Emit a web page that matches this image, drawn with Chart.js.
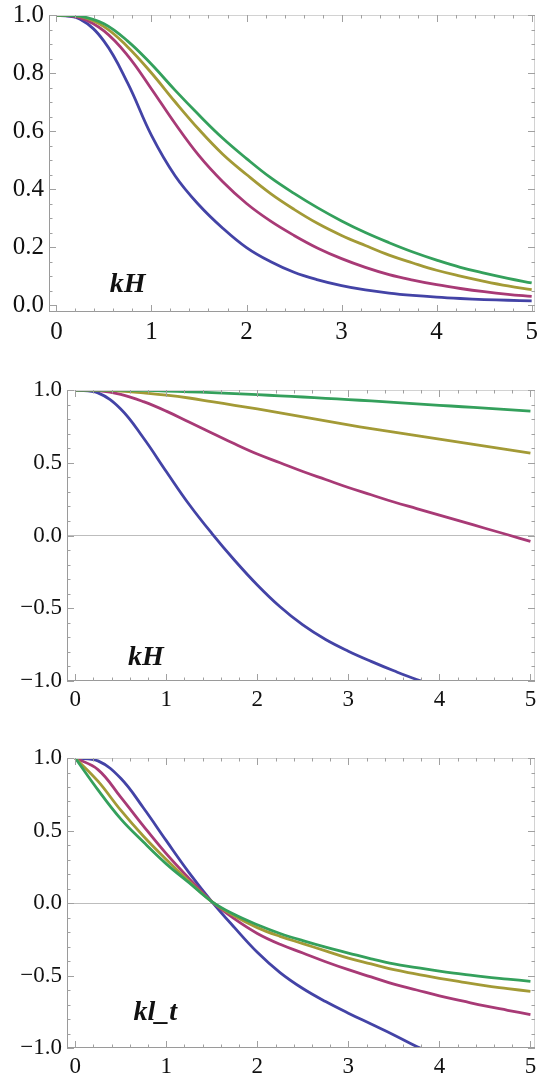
<!DOCTYPE html>
<html>
<head>
<meta charset="utf-8">
<script src="https://cdn.jsdelivr.net/npm/chart.js@4.4.1/dist/chart.umd.min.js"></script>
<style>
  body { margin: 0; background: #fff; width: 538px; height: 1081px; position: relative; overflow: hidden; }
  .panel { position: absolute; left: 0; width: 538px; }
</style>
</head>
<body>
<div class="panel" style="top:0; height:350px;"><canvas id="c1"></canvas></div>
<div class="panel" style="top:375px; height:345px;"><canvas id="c2"></canvas></div>
<div class="panel" style="top:743px; height:338px;"><canvas id="c3"></canvas></div>

<script>
// x positions (kH / kl_t), shared by all panels
const xs = [0, 0.25, 0.5, 0.75, 1, 1.25, 1.5, 1.75, 2, 2.25, 2.5, 2.75, 3, 3.25, 3.5, 3.75, 4, 4.25, 4.5, 4.75, 5];

// panel 1
const p1Blue    = [1, 0.985, 0.91, 0.765, 0.585, 0.445, 0.345, 0.265, 0.198, 0.15, 0.113, 0.087, 0.067, 0.052, 0.041, 0.033, 0.027, 0.0225, 0.019, 0.0165, 0.0145];
const p1Magenta = [1, 0.99, 0.945, 0.86, 0.745, 0.625, 0.515, 0.425, 0.35, 0.29, 0.24, 0.196, 0.16, 0.13, 0.105, 0.086, 0.07, 0.057, 0.046, 0.037, 0.03];
const p1Olive   = [1, 0.995, 0.96, 0.89, 0.80, 0.70, 0.605, 0.52, 0.45, 0.385, 0.33, 0.281, 0.24, 0.205, 0.172, 0.145, 0.12, 0.1, 0.082, 0.066, 0.053];
const p1Green   = [1, 0.996, 0.97, 0.91, 0.83, 0.74, 0.655, 0.575, 0.505, 0.44, 0.385, 0.335, 0.29, 0.25, 0.215, 0.183, 0.155, 0.13, 0.11, 0.092, 0.076];

// panel 2
const p2Blue    = [1, 0.98, 0.87, 0.67, 0.44, 0.215, 0.015, -0.17, -0.34, -0.49, -0.615, -0.715, -0.795, -0.865, -0.93, -0.99, -1.04, -1.09, -1.13, -1.17, -1.2];
const p2Magenta = [1, 0.995, 0.97, 0.92, 0.855, 0.78, 0.705, 0.63, 0.56, 0.5, 0.44, 0.385, 0.33, 0.28, 0.23, 0.185, 0.14, 0.095, 0.05, 0.005, -0.04];
const p2Olive   = [1, 0.999, 0.993, 0.98, 0.965, 0.945, 0.92, 0.895, 0.87, 0.843, 0.815, 0.787, 0.76, 0.735, 0.71, 0.686, 0.662, 0.638, 0.614, 0.59, 0.566];
const p2Green   = [1, 1, 0.999, 0.997, 0.993, 0.988, 0.982, 0.975, 0.968, 0.96, 0.952, 0.943, 0.934, 0.925, 0.915, 0.905, 0.895, 0.885, 0.875, 0.865, 0.855];

// panel 3
const p3Blue    = [1, 0.98, 0.86, 0.655, 0.43, 0.21, 0.01, -0.17, -0.34, -0.48, -0.59, -0.68, -0.76, -0.835, -0.91, -0.99, -1.06, -1.12, -1.18, -1.23, -1.28];
const p3Magenta = [1, 0.92, 0.73, 0.53, 0.34, 0.17, 0.01, -0.11, -0.21, -0.285, -0.345, -0.405, -0.46, -0.51, -0.56, -0.6, -0.64, -0.675, -0.71, -0.74, -0.77];
const p3Olive   = [1, 0.84, 0.64, 0.46, 0.3, 0.15, 0.01, -0.09, -0.17, -0.23, -0.28, -0.33, -0.38, -0.42, -0.46, -0.49, -0.52, -0.545, -0.57, -0.59, -0.61];
const p3Green   = [1, 0.78, 0.58, 0.42, 0.27, 0.14, 0.01, -0.08, -0.15, -0.21, -0.26, -0.305, -0.345, -0.385, -0.42, -0.445, -0.47, -0.49, -0.51, -0.525, -0.54];

// ticks
const xTicks = [0, 1, 2, 3, 4, 5];
const yTicks1 = [0, 0.2, 0.4, 0.6, 0.8, 1.0];
const yTicks23 = [-1, -0.5, 0, 0.5, 1];

const colors = { blue: '#4343a6', magenta: '#a83a76', olive: '#a39a36', green: '#34a05c' };
const serif = '"Liberation Serif", "Times New Roman", serif';

// frame with inward ticks on all four sides + panel label
const framePlugin = {
  id: 'frame',
  afterDatasetsDraw(chart, args, o) {
    const { ctx, chartArea: a, scales: { x, y } } = chart;
    ctx.save();
    ctx.lineWidth = 1;
    // top + right (light)
    ctx.strokeStyle = '#d2d2d2';
    ctx.beginPath();
    ctx.moveTo(a.left, a.top + 0.5); ctx.lineTo(a.right, a.top + 0.5);
    ctx.moveTo(a.right - 0.5, a.top); ctx.lineTo(a.right - 0.5, a.bottom);
    ctx.stroke();
    // left + bottom
    ctx.strokeStyle = '#9a9a9a';
    ctx.beginPath();
    ctx.moveTo(a.left + 0.5, a.top); ctx.lineTo(a.left + 0.5, a.bottom);
    ctx.moveTo(a.left, a.bottom - 0.5); ctx.lineTo(a.right, a.bottom - 0.5);
    ctx.stroke();

    const xTick = (v, len) => {
      const px = Math.round(x.getPixelForValue(v)) + 0.5;
      ctx.moveTo(px, a.bottom); ctx.lineTo(px, a.bottom - len);
      ctx.moveTo(px, a.top); ctx.lineTo(px, a.top + len);
    };
    const yTick = (v, len) => {
      const py = Math.round(y.getPixelForValue(v)) + 0.5;
      ctx.moveTo(a.left, py); ctx.lineTo(a.left + len, py);
      ctx.moveTo(a.right, py); ctx.lineTo(a.right - len, py);
    };
    ctx.strokeStyle = '#a0a0a0';
    ctx.beginPath();
    for (let i = Math.ceil(x.min / 0.2); i * 0.2 <= x.max + 1e-9; i++) xTick(i * 0.2, 3.5);
    for (let i = Math.ceil(y.min / o.yMinor); i * o.yMinor <= y.max + 1e-9; i++) yTick(i * o.yMinor, 3.5);
    xTicks.forEach(v => xTick(v, 7));
    o.yTicks.forEach(v => yTick(v, 7));
    ctx.stroke();

    ctx.fillStyle = '#111';
    ctx.font = 'bold italic 28px ' + serif;
    ctx.textBaseline = 'alphabetic';
    ctx.textAlign = 'left';
    ctx.fillText(o.label, x.getPixelForValue(o.labelX), y.getPixelForValue(o.labelY));
    ctx.restore();
  }
};

function fmt(v) {
  const s = Math.abs(v).toFixed(1);
  return v < 0 ? '\u2212' + s : s;
}

function makeChart(id, series, cfg) {
  const names = ['blue', 'magenta', 'olive', 'green'];
  const datasets = series.map((vals, i) => ({
    data: xs.map((xv, j) => ({ x: xv, y: vals[j] })),
    borderColor: colors[names[i]],
    borderWidth: 2.8,
    pointRadius: 0,
    tension: 0.4,
    fill: false,
    clip: 0,
    order: 3 - i
  }));

  return new Chart(document.getElementById(id), {
    type: 'line',
    data: { datasets },
    options: {
      responsive: true,
      maintainAspectRatio: false,
      animation: false,
      layout: { padding: { top: 15, right: 3, left: 0, bottom: 0 } },
      plugins: {
        legend: { display: false },
        tooltip: { enabled: false },
        frame: cfg
      },
      scales: {
        x: {
          type: 'linear',
          min: cfg.xMin,
          max: cfg.xMax,
          grid: { display: false, drawTicks: false },
          border: { display: false },
          afterBuildTicks: ax => { ax.ticks = xTicks.map(v => ({ value: v })); },
          afterFit: ax => { ax.height = cfg.xAxisHeight; ax.paddingLeft = 0; ax.paddingRight = 0; },
          ticks: {
            padding: 5,
            maxRotation: 0,
            autoSkip: false,
            color: '#111',
            font: { family: serif, size: cfg.fontSize },
            callback: v => String(v)
          }
        },
        y: {
          type: 'linear',
          min: cfg.yMin,
          max: cfg.yMax,
          grid: {
            drawTicks: false,
            lineWidth: 1,
            color: c => (cfg.zeroLine && c.tick && c.tick.value === 0) ? '#bdbdbd' : 'rgba(0,0,0,0)'
          },
          border: { display: false },
          afterBuildTicks: ax => { ax.ticks = cfg.yTicks.map(v => ({ value: v })); },
          afterFit: ax => { ax.width = cfg.yAxisWidth; ax.paddingTop = 0; ax.paddingBottom = 0; },
          ticks: {
            padding: 5,
            autoSkip: false,
            color: '#111',
            font: { family: serif, size: cfg.fontSize },
            callback: v => fmt(v)
          }
        }
      }
    },
    plugins: [framePlugin]
  });
}

makeChart('c1', [p1Blue, p1Magenta, p1Olive, p1Green], {
  xMin: -0.078, xMax: 5.035, yMin: -0.024, yMax: 1.0,
  yTicks: yTicks1, yMinor: 0.05, yAxisWidth: 49, xAxisHeight: 38,
  fontSize: 25, zeroLine: false, label: 'kH', labelX: 0.56, labelY: 0.045
});

makeChart('c2', [p2Blue, p2Magenta, p2Olive, p2Green], {
  xMin: -0.09, xMax: 5.05, yMin: -1, yMax: 1,
  yTicks: yTicks23, yMinor: 0.1, yAxisWidth: 67, xAxisHeight: 39,
  fontSize: 23, zeroLine: true, label: 'kH', labelX: 0.58, labelY: -0.89
});

makeChart('c3', [p3Blue, p3Magenta, p3Olive, p3Green], {
  xMin: -0.09, xMax: 5.05, yMin: -1, yMax: 1,
  yTicks: yTicks23, yMinor: 0.1, yAxisWidth: 67, xAxisHeight: 33,
  fontSize: 23, zeroLine: true, label: 'kl_t', labelX: 0.64, labelY: -0.81
});
</script>
</body>
</html>
